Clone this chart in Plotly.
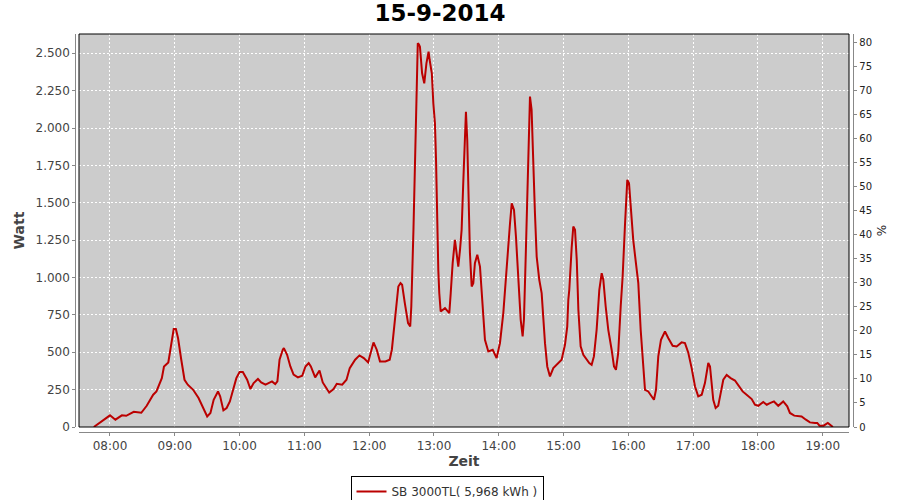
import plotly.graph_objects as go
import pandas as pd

date = "2014-09-15"
title_text = "15-9-2014"
series_name = "SB 3000TL( 5,968 kWh )"

# minutes since midnight
minutes = [465, 480, 485, 491, 495, 502, 509, 514, 520, 523, 528, 530, 534, 536, 539, 541, 543,
           546, 549, 552, 557, 562, 566, 570, 573, 576, 580, 582, 585, 588, 591, 594, 597, 600,
           603, 607, 610, 613, 617, 620, 624, 630, 633, 635, 637, 640, 641, 644, 647, 650, 654,
           658, 661, 664, 666, 670, 674, 677, 683, 687, 690, 695, 699, 702, 707, 711, 715, 719,
           722, 724, 727, 730, 735, 739, 741, 743, 745.5, 747, 749, 750.5, 753, 756, 758, 759,
           761, 762, 763, 764, 765, 766, 767, 769, 771, 773, 775, 776, 778, 779.4, 780.9, 781.9,
           782.5, 783.0, 784.0, 784.9, 786.2, 790.2, 794.2, 795.5, 797.3, 799.4, 801.0, 802.5,
           804.1, 805.6, 807.1, 808.7, 809.6, 810.8, 811.7, 813.3, 814.9, 816.4, 817.9, 820.1,
           822.6, 824.2, 825.6, 827.2, 830.3, 834.4, 838.0, 841.1, 844.2, 847.3, 850.4, 852.0,
           854.1, 855.9, 858.1, 860.3, 862.1, 863.3, 865.2, 867.3, 868.9, 870.4, 871.9, 873.5,
           875.1, 877.5, 879.7, 881.2, 882.8, 884.9, 887.4, 890.5, 895.1, 898.2, 901.3, 903.4,
           904.4, 905.3, 907.5, 909.0, 910.6, 912.2, 913.7, 915.8, 918.3, 921.4, 923.8, 926.0,
           928.1, 930.6, 933.1, 935.3, 936.8, 939.0, 941.4, 944.5, 946.7, 948.5, 950.6, 952.9,
           954.7, 956.8, 959.0, 960.6, 962.4, 964.5, 967.0, 969.2, 971.4, 973.2, 975.4, 978.4,
           981.6, 983.7, 985.6, 987.7, 990.2, 993.9, 996.9, 1001.0, 1004.7, 1009.3, 1012.4,
           1015.4, 1018.6, 1021.7, 1024.7, 1027.9, 1030.9, 1034.0, 1035.6, 1037.1, 1038.6,
           1040.8, 1043.2, 1045.5, 1047.9, 1051.0, 1054.7, 1058.7, 1061.7, 1065.8, 1069.5,
           1074.2, 1077.2, 1080.3, 1084.9, 1088.1, 1091.1, 1094.8, 1098.8, 1103.4, 1107.1,
           1109.6, 1113.6, 1117.3, 1120.4, 1124.4, 1128.1, 1132.8, 1134.9, 1137.0, 1140.8,
           1144.7, 1147.0, 1149.4]

watt = [0, 78, 49, 78, 75, 102, 95, 142, 216, 238, 327, 405, 432, 517, 655, 655, 595,
        450, 316, 283, 249, 194, 127, 71, 94, 182, 238, 205, 111, 127, 171, 249, 327, 368,
        368, 316, 254, 294, 321, 298, 283, 305, 287, 305, 450, 517, 528, 483, 405, 350, 332,
        343, 405, 428, 405, 332, 378, 298, 231, 254, 289, 283, 316, 394, 450, 479, 461, 432,
        517, 566, 517, 439, 439, 450, 517, 650, 850, 940, 962, 951, 829, 695, 672, 806,
        1319, 1653, 1987, 2288, 2567, 2560, 2544, 2366, 2299, 2433, 2511, 2455, 2366, 2166, 2032, 1787,
        1519, 1252, 1051, 896, 773, 795, 762, 896, 1096, 1252, 1140, 1073,
        1185, 1319, 1631, 2009, 2109, 1920, 1653, 1163, 940, 962, 1096, 1152,
        1073, 918, 739, 583, 505, 517, 461, 561, 762, 1096, 1363, 1497,
        1452, 1274, 985, 717, 606, 717, 1207, 1698, 2210, 2121, 1720, 1430,
        1140, 985, 896, 717, 561, 405, 338, 394, 428, 450, 550, 672,
        851, 918, 1200, 1341, 1319, 1118, 784, 539, 483, 450, 428, 416,
        472, 650, 918, 1029, 985, 806, 650, 517, 405, 383, 495, 806,
        1007, 1341, 1653, 1631, 1475, 1252, 1096, 962, 650, 472, 249, 238,
        205, 182, 249, 472, 583, 639, 595, 543, 539, 566, 561,
        499, 394, 271, 205, 216, 294, 428, 405, 294, 182,
        127, 142, 227, 316, 348, 327, 311, 283, 238, 216,
        187, 149, 142, 167, 149, 160, 171, 142, 171, 138,
        94, 76, 76, 71, 49, 31, 27, 27, 9, 9,
        27, 15, 0]

x_tick_labels = ["08:00", "09:00", "10:00", "11:00", "12:00", "13:00", "14:00",
                 "15:00", "16:00", "17:00", "18:00", "19:00"]
y_ticks = [0, 250, 500, 750, 1000, 1250, 1500, 1750, 2000, 2250, 2500]
y2_ticks = [0, 5, 10, 15, 20, 25, 30, 35, 40, 45, 50, 55, 60, 65, 70, 75, 80]

times = pd.Timestamp(date) + pd.to_timedelta(minutes, unit="m")
x_tickvals = [f"{date} {t}:00" for t in x_tick_labels]

FONT = "DejaVu Sans"
grid = dict(gridcolor="white", gridwidth=1, griddash="2px,2px")

fig = go.Figure()
fig.add_trace(go.Scatter(x=times, y=watt, mode="lines", name=series_name,
                         line=dict(color="#BB0000", width=2)))
fig.add_trace(go.Scatter(x=[times[0]], y=[None], yaxis="y2", showlegend=False,
                         hoverinfo="skip", mode="lines"))

ML, MR, MT, MB = 70, 40, 30, 60
PW = 900 - ML - MR
PH = 500 - MT - MB
def px_x(p):
    return (p - ML) / PW
def px_y(p):
    return (500 - MB - p) / PH

xd = [px_x(79), px_x(849)]
yd = [px_y(427), px_y(34)]

fig.update_layout(
    width=900, height=500,
    margin=dict(l=ML, r=MR, t=MT, b=MB, autoexpand=False),
    paper_bgcolor="white", plot_bgcolor="#CCCCCC",
    separators=",.",
    font=dict(family=FONT, size=12, color="#444444"),
    title=dict(text="<b>" + title_text + "</b>", x=440 / 900, xref="container", xanchor="center",
               y=1 - 13 / 500, yanchor="middle", yref="container",
               font=dict(family=FONT, size=23, color="#000000")),
    xaxis=dict(domain=xd, anchor="free", position=px_y(431.5), type="date", automargin=False,
               range=[f"{date} 07:31:18", f"{date} 19:24:18"],
               tickvals=x_tickvals, ticktext=x_tick_labels,
               showline=True, linecolor="#888888", linewidth=1,
               ticks="outside", ticklen=3, tickcolor="#888888",
               tickfont=dict(size=12, color="#444444"),
               title=dict(text="<b>Zeit</b>", font=dict(size=14, color="#444444"), standoff=3),
               zeroline=False, **grid),
    yaxis=dict(domain=yd, anchor="free", position=px_x(75.3), range=[0, 2629], automargin=False,
               tickvals=y_ticks, tickformat=",d",
               showline=True, linecolor="#888888", linewidth=1,
               ticks="outside", ticklen=3, tickcolor="#888888",
               tickfont=dict(size=12, color="#444444"),
               title=dict(text="<b>Watt</b>", font=dict(size=14, color="#444444"), standoff=6),
               zeroline=False, **grid),
    yaxis2=dict(overlaying="y", side="right", anchor="free", position=px_x(853.3), automargin=False,
                range=[0, 81.7], tickvals=y2_ticks, showgrid=False,
                showline=True, linecolor="#888888", linewidth=1,
                ticks="outside", ticklen=3, tickcolor="#888888",
                tickfont=dict(size=10, color="#222222"),
                title=dict(text="%", font=dict(size=12, color="#222222"), standoff=6),
                zeroline=False),
    legend=dict(orientation="h", x=px_x(447), xanchor="center", y=px_y(476), yanchor="top",
                bordercolor="black", borderwidth=1, bgcolor="white",
                font=dict(size=12, color="#333333"), itemwidth=30,
                tracegroupgap=0),
    shapes=[dict(type="rect", xref="paper", yref="paper", x0=xd[0], x1=xd[1], y0=yd[0], y1=yd[1],
                 line=dict(color="black", width=1), layer="above")],
    showlegend=True,
)

fig.write_html("out.html", config={"displayModeBar": False},
               post_script="document.body.style.margin='0';")
